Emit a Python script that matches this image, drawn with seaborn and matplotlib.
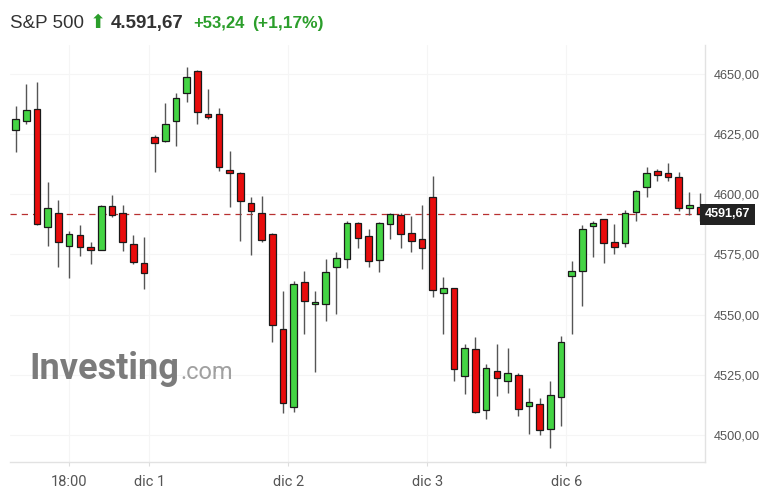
import matplotlib
matplotlib.use("Agg")
import matplotlib.pyplot as plt
import seaborn as sns
import numpy as np

# 30-minute candles (last day still running)
opens = [4626.9, 4630.5, 4635.3, 4586.4, 4592.3, 4578.7, 4583.0, 4578.1, 4576.9, 4595.3,
         4592.3, 4579.2, 4571.5, 4623.8, 4622.3, 4630.6, 4642.0, 4651.4, 4633.3, 4633.3,
         4610.0, 4608.7, 4596.3, 4592.3, 4583.5, 4543.9, 4511.5, 4563.7, 4554.3, 4554.3,
         4569.7, 4573.0, 4588.1, 4582.8, 4572.9, 4587.6, 4591.4, 4583.9, 4581.3, 4599.0,
         4558.9, 4561.0, 4524.5, 4535.6, 4510.5, 4526.7, 4522.5, 4524.8, 4512.1, 4512.9,
         4502.6, 4515.7, 4566.1, 4568.2, 4586.9, 4589.6, 4580.3, 4579.7, 4592.5, 4602.9,
         4609.7, 4608.7, 4607.3, 4594.2, 4594.9]
highs = [4636.7, 4645.6, 4646.5, 4605.0, 4597.7, 4584.8, 4587.4, 4580.1, 4595.5, 4599.7,
         4595.6, 4583.2, 4582.2, 4624.7, 4637.8, 4642.0, 4652.8, 4651.6, 4643.9, 4636.0,
         4618.0, 4609.4, 4598.8, 4599.3, 4584.1, 4559.8, 4564.0, 4568.2, 4559.8, 4573.3,
         4576.0, 4588.9, 4588.6, 4585.7, 4588.6, 4592.4, 4592.4, 4591.0, 4595.6, 4607.6,
         4565.5, 4561.2, 4537.8, 4540.6, 4529.5, 4537.7, 4536.0, 4525.6, 4519.4, 4515.3,
         4522.5, 4541.2, 4572.3, 4587.3, 4589.1, 4589.8, 4587.6, 4593.5, 4601.8, 4611.2,
         4610.4, 4612.9, 4609.4, 4600.9, 4600.4]
lows = [4617.7, 4629.1, 4587.3, 4578.7, 4569.8, 4565.1, 4574.5, 4570.9, 4576.7, 4590.6,
        4576.5, 4570.9, 4560.6, 4609.4, 4621.8, 4620.2, 4638.5, 4629.1, 4631.2, 4609.8,
        4594.9, 4580.7, 4574.9, 4580.3, 4538.8, 4509.3, 4509.7, 4541.9, 4526.3, 4547.5,
        4550.2, 4569.3, 4577.6, 4569.9, 4567.9, 4581.3, 4577.6, 4575.9, 4568.9, 4557.4,
        4541.9, 4522.6, 4516.9, 4509.3, 4506.5, 4516.2, 4517.3, 4508.0, 4500.3, 4500.0,
        4494.5, 4503.9, 4541.9, 4553.7, 4574.0, 4571.4, 4575.1, 4578.2, 4588.9, 4599.0,
        4605.7, 4605.7, 4593.2, 4591.4, 4588.9]
closes = [4631.2, 4634.8, 4587.6, 4594.3, 4580.1, 4583.5, 4578.0, 4577.0, 4595.3, 4591.3,
          4580.1, 4571.8, 4567.2, 4621.2, 4629.1, 4639.9, 4648.9, 4634.1, 4632.0, 4611.2,
          4608.7, 4597.4, 4593.2, 4581.2, 4545.7, 4513.2, 4562.6, 4555.8, 4555.4, 4567.9,
          4573.4, 4588.2, 4581.7, 4572.3, 4588.1, 4591.7, 4583.4, 4580.6, 4577.6, 4560.4,
          4561.0, 4527.3, 4536.0, 4509.5, 4527.7, 4523.6, 4525.6, 4510.9, 4513.9, 4502.1,
          4516.5, 4538.8, 4568.3, 4585.5, 4588.2, 4579.7, 4578.0, 4592.1, 4601.5, 4608.7,
          4608.2, 4607.1, 4594.2, 4595.4, 4591.67]

x_tick_pos = [5, 12.5, 25.5, 38.5, 51.5]
x_tick_labels = ["18:00", "dic 1", "dic 2", "dic 3", "dic 6"]
y_ticks = [4500, 4525, 4550, 4575, 4600, 4625, 4650]

last_price = 4591.67
title_name = "S&P 500"
title_price = "4.591,67"
title_change = "+53,24"
title_pct = "(+1,17%)"

GREEN = "#44d444"
RED = "#e80c0c"
TXT_GREEN = "#2b9e2b"

sns.set_theme(style="white")
plt.rcParams["font.family"] = ["Liberation Sans", "DejaVu Sans"]

fig = plt.figure(figsize=(7.72, 5.03), dpi=100)
W, H = 772, 503
ax = fig.add_axes([10 / W, 41 / H, 695 / W, 417 / H])

idx = np.arange(len(opens))
o = np.array(opens)
c = np.array(closes)
up = c >= o
colors = np.where(up, GREEN, RED)

# wicks then bodies
ax.vlines(idx, lows, highs, color="#555555", lw=1.0, zorder=2)
body_h = np.abs(c - o)
body_h = np.maximum(body_h, 0.9)
ax.bar(idx, body_h, bottom=np.minimum(o, c), width=0.62, color=colors,
       edgecolor="#1a1a1a", linewidth=0.9, zorder=3)

# last price line + label
ax.axhline(last_price, color="#b83030", lw=0.9, dashes=(5, 4), zorder=1)
ax.text(1.0, last_price, "4591,67", transform=ax.get_yaxis_transform(),
        ha="left", va="center", color="white", fontsize=9, fontweight="bold",
        bbox=dict(boxstyle="square,pad=0.38", fc="#222222", ec="none"), zorder=5,
        clip_on=False)

ax.set_xlim(-0.53, 64.47)
ax.set_ylim(4488.8, 4662)
ax.set_xticks(x_tick_pos)
ax.set_xticklabels(x_tick_labels, fontfamily="Roboto", fontsize=10.5, color="#555555")
ax.set_yticks(y_ticks)
ax.set_yticklabels([f"{v:.2f}".replace(".", ",") for v in y_ticks],
                   fontsize=9.2, color="#555555")
ax.yaxis.tick_right()
ax.tick_params(axis="y", length=0, pad=6)
ax.tick_params(axis="x", length=3, width=0.8, color="#dddddd", pad=6, bottom=True)
ax.grid(True, color="#f5f5f5", lw=0.8)
ax.set_axisbelow(True)
for side in ["left", "top"]:
    ax.spines[side].set_visible(False)
for side in ["right", "bottom"]:
    ax.spines[side].set_color("#e2e2e2")
    ax.spines[side].set_linewidth(1.0)


def put_row(pieces, x0, y0):
    """Lay text pieces side by side (pixel coords from top-left)."""
    renderer = fig.canvas.get_renderer()
    x = x0
    for text, gap, kw in pieces:
        t = fig.text(x / W, (H - y0) / H, text, va="baseline", ha="left", **kw)
        bb = t.get_window_extent(renderer)
        x = bb.x1 + gap


put_row([
    (title_name, 6, dict(fontsize=13.5, color="#333333")),
    ("\u2b06", 4, dict(fontsize=14, color=TXT_GREEN, family=["DejaVu Sans"])),
    (title_price, 10, dict(fontsize=13.5, color="#333333", fontweight="bold")),
    (title_change, 8, dict(fontsize=12, color=TXT_GREEN, fontweight="bold")),
    (title_pct, 0, dict(fontsize=12.5, color=TXT_GREEN, fontweight="bold")),
], 10, 28)

# watermark
put_row([
    ("Investing", 1, dict(fontsize=26, color="#7b7b7b", fontweight="bold",
                          family=["Roboto"], zorder=0)),
    (".com", 0, dict(fontsize=17, color="#a0a0a0", family=["Roboto"], zorder=0)),
], 29, 379)

fig.savefig("out.png", dpi=100)
